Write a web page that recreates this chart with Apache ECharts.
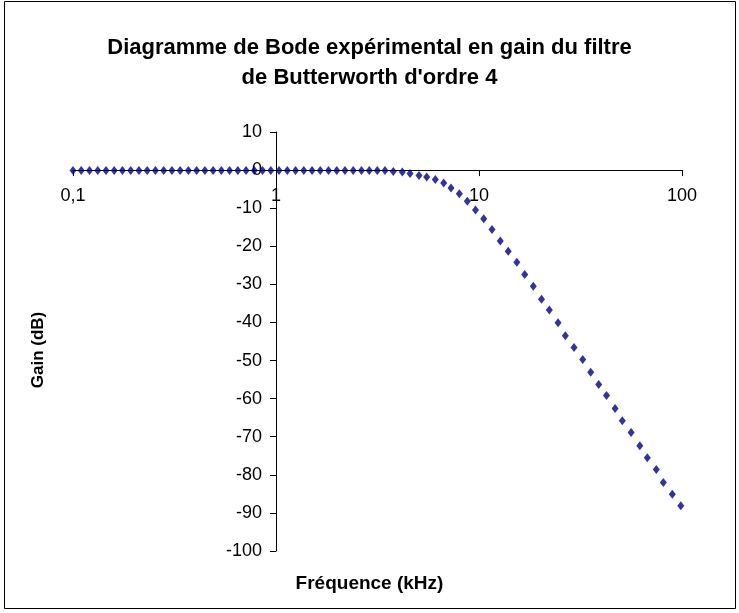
<!DOCTYPE html>
<html>
<head>
<meta charset="utf-8">
<script src="https://cdn.jsdelivr.net/npm/echarts@6/dist/echarts.min.js"></script>
<style>
html,body{margin:0;padding:0;background:#fff;}
#chart{width:739px;height:613px;}
</style>
</head>
<body>
<div id="chart"></div>
<script>
// Frequencies (kHz)
const freq = [
  0.1, 0.1098, 0.1206, 0.1324, 0.1454, 0.1596, 0.1752, 0.1924, 0.2113, 0.232,
  0.2547, 0.2797, 0.3071, 0.3372, 0.3702, 0.4064, 0.4463, 0.49, 0.538, 0.5907,
  0.6486, 0.7122, 0.7819, 0.8586, 0.9428, 1.035, 1.137, 1.248, 1.37, 1.505,
  1.652, 1.814, 1.992, 2.187, 2.401, 2.636, 2.881, 3.155, 3.443, 3.782,
  4.19, 4.573, 5.064, 5.526, 6.092, 6.701, 7.28, 7.998, 8.758, 9.612,
  10.55, 11.59, 12.73, 13.93, 15.36, 16.8, 18.51, 20.32, 22.2, 24.51,
  26.62, 29.38, 32.43, 35.5, 38.88, 42.47, 46.82, 50.8, 56.15, 61.96,
  67.47, 74.7, 80.91, 89.59, 98.65
];
// Gain (dB)
const gain = [
  -0.1, -0.1, -0.1, -0.1, -0.1, -0.1, -0.1, -0.1, -0.1, -0.1,
  -0.1, -0.1, -0.1, -0.1, -0.1, -0.1, -0.1, -0.1, -0.1, -0.1,
  -0.1, -0.1, -0.1, -0.1, -0.1, -0.1, -0.1, -0.1, -0.1, -0.1,
  -0.1, -0.1, -0.1, -0.1, -0.1, -0.1, -0.1, -0.1, -0.1, -0.4,
  -0.5, -0.9, -1.4, -1.8, -2.5, -3.4, -4.7, -6.2, -8.2, -10.5,
  -12.8, -15.6, -18.6, -21.3, -24.2, -27.4, -30.5, -33.9, -36.7, -40.1,
  -43.5, -46.6, -49.7, -53.1, -56.3, -59.2, -62.6, -65.8, -68.9, -72.4,
  -75.5, -78.6, -82.0, -85.1, -88.1
];
const titleText = "Diagramme de Bode expérimental en gain du filtre\nde Butterworth d'ordre 4";
const xName = "Fréquence (kHz)";
const yName = "Gain (dB)";
const yMin = -100, yMax = 10, yStep = 10;
const xMin = 0.1, xMax = 100;

const FONT = "'Liberation Sans', Arial, sans-serif";
const chart = echarts.init(document.getElementById('chart'), null, {renderer: 'canvas'});
const gridLeft = 73, gridRight = 57, gridTop = 132, gridBottom = 62;

function buildOption(xOffset, yOffset) {
  return {
    animation: false,
    backgroundColor: '#ffffff',
    title: {
      text: titleText,
      left: 'center',
      top: 28,
      textStyle: {fontFamily: FONT, fontWeight: 'bold', fontSize: 22, lineHeight: 30, color: '#000'}
    },
    graphic: [
      {type: 'rect', shape: {x: 4.5, y: 1.5, width: 731, height: 607}, style: {fill: 'none', stroke: '#000', lineWidth: 1}, silent: true, z: -1},
      {type: 'text', left: 'center', top: 574, style: {text: xName, font: "bold 19px " + FONT, fill: '#000'}},
      {type: 'text', rotation: Math.PI / 2, x: 38, y: 350, style: {text: yName, font: "bold 17px " + FONT, fill: '#000', align: 'center', verticalAlign: 'middle'}}
    ],
    grid: {left: gridLeft, right: gridRight, top: gridTop, bottom: gridBottom, containLabel: false},
    xAxis: {
      type: 'log', logBase: 10, min: xMin, max: xMax,
      position: 'bottom', offset: xOffset,
      axisLine: {onZero: false, lineStyle: {color: '#000', width: 1}},
      axisTick: {show: true, inside: false, length: 6, lineStyle: {color: '#000'}},
      minorTick: {show: false},
      splitLine: {show: false},
      axisLabel: {
        margin: 17, color: '#000', fontFamily: FONT, fontSize: 18,
        formatter: function (v) { return String(v).replace('.', ','); }
      }
    },
    yAxis: {
      type: 'value', min: yMin, max: yMax, interval: yStep,
      position: 'left', offset: yOffset,
      axisLine: {show: true, onZero: false, lineStyle: {color: '#000', width: 1}},
      axisTick: {show: true, inside: false, length: 6, lineStyle: {color: '#000'}},
      splitLine: {show: false},
      axisLabel: {margin: 14, color: '#000', fontFamily: FONT, fontSize: 18}
    },
    series: [{
      type: 'scatter',
      data: freq.map(function (f, i) { return [f, gain[i]]; }),
      symbol: 'diamond',
      symbolSize: [7, 9],
      itemStyle: {color: '#000080'},
      z: 5
    }]
  };
}

chart.setOption(buildOption(0, 0));
// Excel-style crossings: the y axis crosses at x = 1, the x axis crosses at y = 0
const px1 = chart.convertToPixel({xAxisIndex: 0}, 1);
const py0 = chart.convertToPixel({yAxisIndex: 0}, 0);
const gridBottomPx = 613 - gridBottom;
chart.setOption(buildOption(-(gridBottomPx - py0), -(px1 - gridLeft)));
</script>
</body>
</html>
